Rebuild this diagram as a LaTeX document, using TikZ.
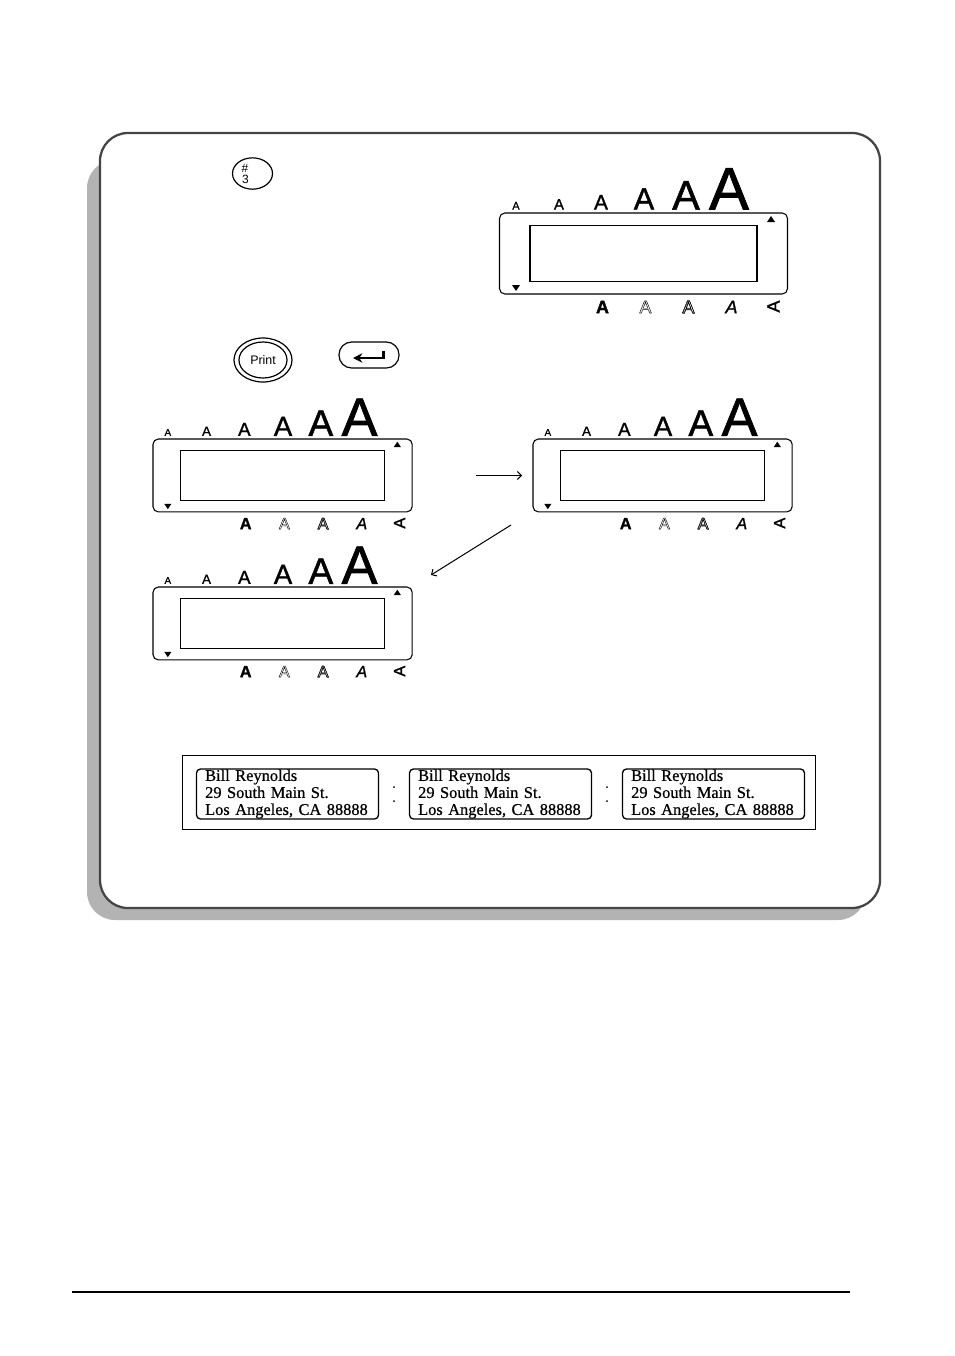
\documentclass[tikz,border=0pt]{standalone}
\usepackage{fontspec}
\usepackage{tikz}
\usetikzlibrary{shapes.geometric,arrows.meta}
\setmainfont{Liberation Sans}
\newfontfamily\labelfont[FakeBold=0.6]{Liberation Serif}
\newfontfamily\glyphfont[FakeBold=1.2]{Liberation Sans}
\newfontfamily\heavyfont[UprightFont=* Bold,UprightFeatures={FakeBold=1.5}]{Liberation Sans}

\definecolor{framegray}{HTML}{444444}
\definecolor{shadowgray}{HTML}{B3B3B3}

\newcommand{\outlineA}{\special{pdf:code 1 Tr 0.35 w}A\special{pdf:code 0 Tr 1 w}}

\tikzset{
    lcdframe/.style={draw,line width=0.8pt,rounded corners=4pt,minimum width=216pt,minimum height=60.75pt,inner sep=0pt},
    lcdscreen/.style={draw,line width=0.8pt,minimum width=170.25pt,minimum height=42pt,inner sep=0pt},
    sizeglyph/.style={anchor=base,inner sep=0pt},
    styleglyph/.style={inner sep=0pt,font=\fontsize{13.5}{13.5}\selectfont},
    keyoval/.style={draw,line width=0.9pt,ellipse,inner sep=0pt},
    tapelabel/.style={draw,line width=1pt,rounded corners=3pt,minimum width=136.5pt,minimum height=37.5pt,text width=123.5pt,
        align=left,inner sep=0pt,font=\labelfont\fontsize{12.3}{12.75}\selectfont},
    nextarrow/.style={-{Straight Barb[length=3pt,width=6pt]},line width=0.75pt}
}

% one display: name, left, top, scale
\newcommand{\lcdpanel}[4]{
    \begin{scope}[shift={(#2,#3)},scale=#4,transform shape]
        \node[lcdframe] (#1) at (144,40.5) {};
        \node[lcdscreen] (#1screen) at (144,40.5) {};
        \foreach \i/\x/\s in {1/16.5/8.2,2/59.5/11.2,3/101.5/15.7,4/144.5/23,5/186.5/31,6/229.5/45}{
            \node[sizeglyph,font=\glyphfont\fontsize{\s}{\s}\selectfont] (#1size\i) at (\x,-3.5) {A};
        }
        \fill (271.5,3) -- (275.5,9) -- (267.5,9) -- cycle;
        \fill (16.5,78) -- (20.5,72) -- (12.5,72) -- cycle;
        \node[styleglyph,font=\heavyfont\fontsize{13.5}{13.5}\selectfont] (#1bold) at (103,94) {A};
        \node[styleglyph] (#1outline) at (146,94) {\outlineA};
        \node[styleglyph] (#1shadow) at (189,94) {\outlineA\kern-9.2pt\raisebox{0.4pt}{\outlineA}};
        \node[styleglyph,font=\glyphfont\itshape\fontsize{13.5}{13.5}\selectfont] (#1italic) at (232,94) {A};
        \node[styleglyph,font=\glyphfont\fontsize{13.5}{13.5}\selectfont,rotate=90] (#1vertical) at (274,93.5) {A};
    \end{scope}
}

\begin{document}
\begin{tikzpicture}[x=0.75pt,y=-0.75pt]
    \useasboundingbox (0,0) rectangle (954,1356);

    % page
    \fill[shadowgray,rounded corners=21pt] (87,160) rectangle (866,920);
    \draw[framegray,line width=1.7pt,fill=white,rounded corners=21pt] (100,133) rectangle (880,908);
    \draw[line width=2.2pt] (72,1292) -- (850,1292);

    % keys
    \node[keyoval,minimum width=30pt,minimum height=23.5pt] (numkey) at (252.5,173.5) {};
    \node[font=\fontsize{9}{9}\selectfont,inner sep=0pt] (numkeyhash) at (245,168) {\#};
    \node[font=\fontsize{9}{9}\selectfont,inner sep=0pt] (numkeydigit) at (245.5,179.5) {3};

    \node[keyoval,minimum width=43.5pt,minimum height=33pt] (printkey) at (263,360) {};
    \node[keyoval,minimum width=36pt,minimum height=27pt,font=\fontsize{9.3}{9.3}\selectfont] (printkeyin) at (263,360) {Print};

    \node[draw,line width=0.9pt,rounded corners=9.5pt,minimum width=45pt,minimum height=19.5pt,inner sep=0pt] (enterkey) at (369,355) {};
    \coordinate (entera) at (383.5,351);
    \coordinate (enterb) at (383.5,358);
    \coordinate (enterc) at (353,358);
    \draw[line width=1.7pt,-{Stealth[length=7pt,width=7pt]}] (entera) -- (enterb) -- (enterc);

    % displays
    \lcdpanel{panelmain}{499.5}{213}{1}
    \lcdpanel{panelone}{153}{439}{0.9}
    \lcdpanel{paneltwo}{533}{439}{0.9}
    \lcdpanel{panelthree}{153}{587}{0.9}

    \coordinate (stepa) at (476,475.5);
    \coordinate (stepb) at (522,475.5);
    \coordinate (stepc) at (511,525);
    \coordinate (stepd) at (431,575);
    \draw[nextarrow] (stepa) -- (stepb);
    \draw[nextarrow] (stepc) -- (stepd);

    % tape
    \node[draw,line width=0.7pt,minimum width=475pt,minimum height=56pt,inner sep=0pt] (tape) at (499,792.5) {};
    \foreach \n/\x in {a/287.5,b/500.5,c/713.5}{
        \node[tapelabel] (label\n) at (\x,794) {Bill Reynolds\\29 South Main St.\\Los Angeles, CA 88888};
    }
    \foreach \x in {394,607}{
        \fill (\x,787) circle [radius=1];
        \fill (\x,801) circle [radius=1];
    }
\end{tikzpicture}
\end{document}
